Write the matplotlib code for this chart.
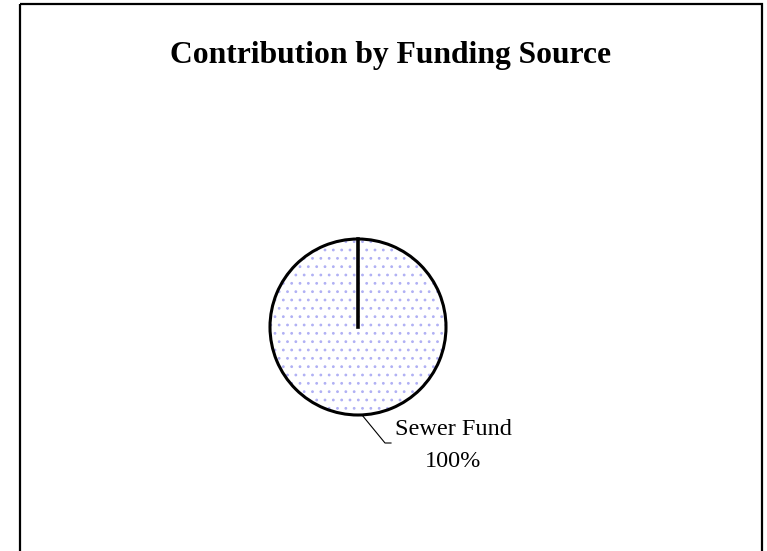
import matplotlib
matplotlib.use("Agg")
import matplotlib.pyplot as plt
from matplotlib.patches import Rectangle
import numpy as np

plt.rcParams['hatch.linewidth'] = 0.8

title = "Contribution by Funding Source"
categories = ["Sewer Fund"]
values = [100]

W, H = 767, 551
fig = plt.figure(figsize=(W / 100, H / 100), dpi=100)
ax = fig.add_axes([0, 0, 1, 1])
ax.set_xlim(0, W)
ax.set_ylim(H, 0)
ax.axis('off')

# outer frame
ax.add_patch(Rectangle((20, 4), 742, 560, fill=False, edgecolor='#000000', lw=1.6, zorder=1))

ax.text(391, 63, title, ha='center', va='baseline', fontsize=22.8, fontweight='bold',
        family='Liberation Serif')

cx, cy, r = 358, 327, 88
pax = fig.add_axes([0, 0, 1, 1])
# dotted fill (hatch takes its colour from the edge colour)
pax.pie(values, startangle=90, counterclock=False, center=(cx, H - cy), radius=r,
        colors=['white'], wedgeprops=dict(edgecolor='#b0b0f4', linewidth=0, hatch='..'),
        frame=True)
# outline
wedges, _ = pax.pie(values, startangle=90, counterclock=False, center=(cx, H - cy), radius=r,
                    wedgeprops=dict(fill=False, edgecolor='black', linewidth=2.2), frame=True)
pax.set_xlim(0, W)
pax.set_ylim(0, H)
pax.set_aspect('equal')
pax.axis('off')
ang = np.deg2rad(90)
pax.plot([cx, cx + r * np.cos(ang)], [H - cy, H - cy + r * np.sin(ang)], color='black', lw=2.6)

total = sum(values)
for cat, v in zip(categories, values):
    pct = 100 * v / total
    ax.plot([362, 385, 391], [415, 443, 443], color='black', lw=0.8)
    ax.text(453, 435, cat, ha='center', va='baseline', fontsize=17.5, family='Liberation Serif')
    ax.text(453, 467, f"{pct:.0f}%", ha='center', va='baseline', fontsize=17.5,
            family='Liberation Serif')

fig.savefig('out.png', dpi=100)
